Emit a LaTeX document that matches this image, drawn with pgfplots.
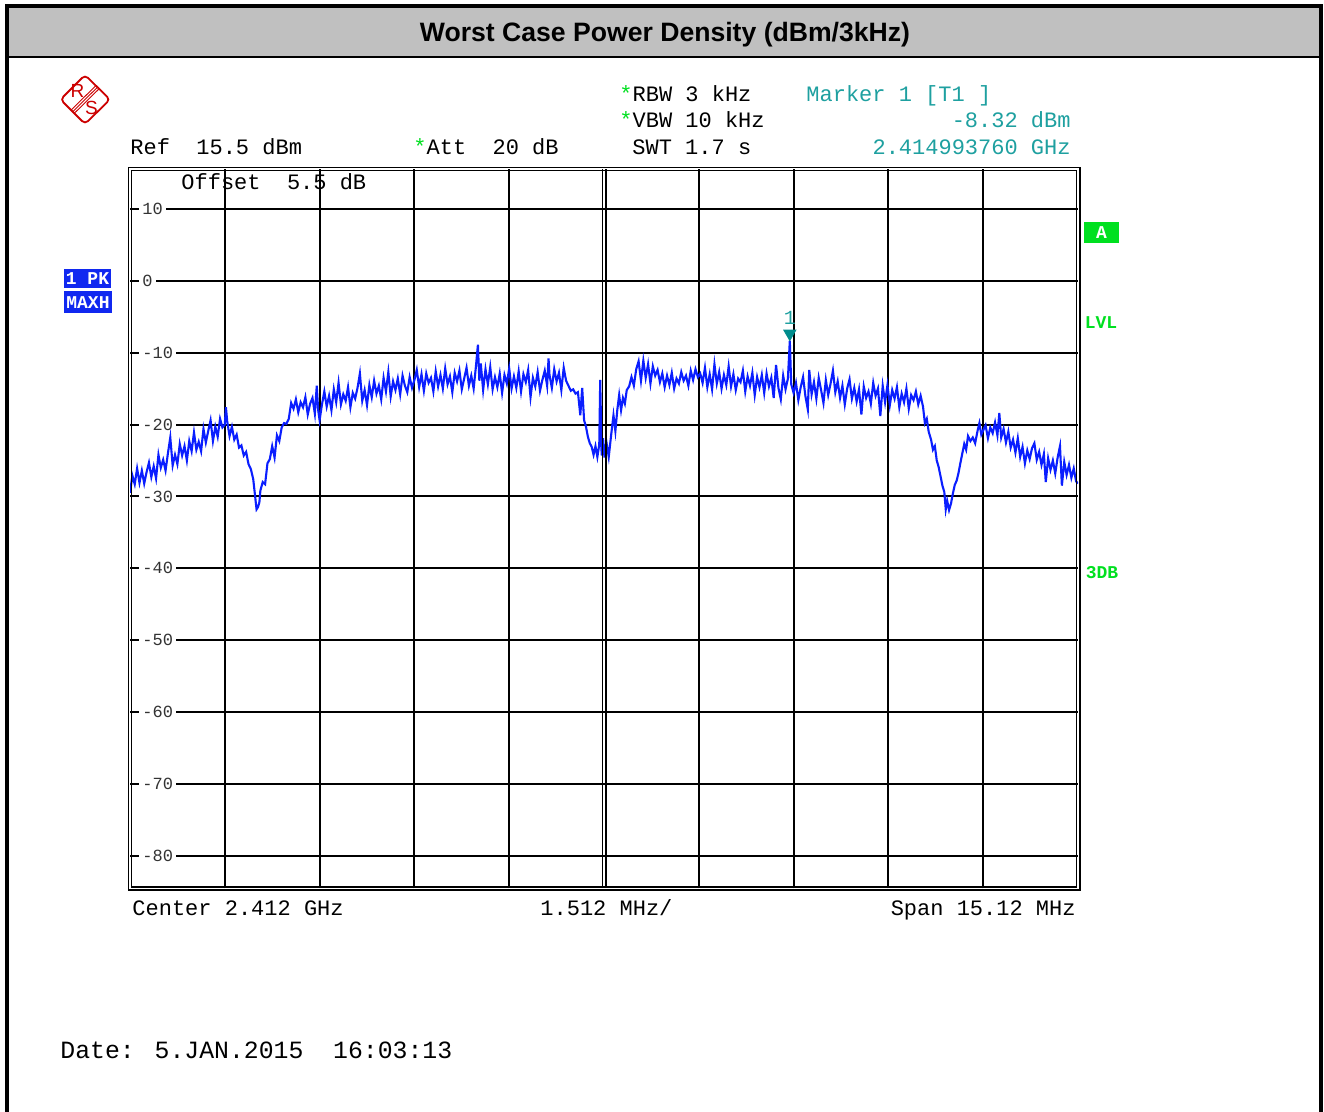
\documentclass[border=0pt]{standalone}
\usepackage{pgfplots}
\pgfplotsset{compat=1.18}
\usepackage{pgfplotstable}
\usepackage{fontspec}
\setmainfont{Liberation Sans}
\newfontfamily\lsans{Liberation Sans}
\newfontfamily\lmono{Liberation Mono}
\definecolor{trace}{RGB}{10,30,255}
\definecolor{mteal}{RGB}{30,160,160}
\definecolor{mtri}{RGB}{0,140,140}
\definecolor{lgreen}{RGB}{0,224,32}
\definecolor{pkblue}{RGB}{16,40,240}
\definecolor{rsred}{RGB}{204,0,0}
\definecolor{tgray}{RGB}{192,192,192}
\pgfplotstableread{
x y
0.000 -29.5
0.025 -27.1
0.050 -28.3
0.075 -26.1
0.100 -28.1
0.125 -26.4
0.150 -28.2
0.175 -26.6
0.200 -25.3
0.225 -27.3
0.250 -25.8
0.275 -27.5
0.300 -24.2
0.325 -26.0
0.350 -24.9
0.375 -26.4
0.400 -24.0
0.425 -21.8
0.450 -25.7
0.475 -24.2
0.500 -25.5
0.525 -22.7
0.550 -24.3
0.575 -23.0
0.600 -25.0
0.625 -22.3
0.650 -23.7
0.675 -21.1
0.700 -23.5
0.725 -22.4
0.750 -23.7
0.775 -20.6
0.800 -22.5
0.825 -20.9
0.850 -19.4
0.875 -22.3
0.900 -20.3
0.925 -21.7
0.950 -19.2
0.975 -20.4
1.000 -20.0
1.012 -17.6
1.025 -19.5
1.050 -21.6
1.075 -20.3
1.100 -22.1
1.125 -21.4
1.150 -23.2
1.175 -22.9
1.200 -24.3
1.225 -23.8
1.250 -25.5
1.275 -26.2
1.300 -27.6
1.320 -30.0
1.335 -31.8
1.350 -31.5
1.365 -30.8
1.375 -29.2
1.400 -28.0
1.425 -28.3
1.450 -25.4
1.475 -24.8
1.500 -23.0
1.525 -24.6
1.550 -21.5
1.575 -22.3
1.600 -20.4
1.625 -19.8
1.650 -19.9
1.675 -19.2
1.700 -17.0
1.725 -17.8
1.750 -16.5
1.775 -18.3
1.800 -16.9
1.825 -17.6
1.850 -16.2
1.875 -18.6
1.900 -17.1
1.925 -16.3
1.950 -18.5
1.970 -14.6
1.985 -18.0
2.000 -19.4
2.025 -17.2
2.050 -15.4
2.075 -17.5
2.100 -16.0
2.125 -18.0
2.150 -15.1
2.175 -16.9
2.200 -14.2
2.225 -17.2
2.250 -15.8
2.275 -16.7
2.300 -14.8
2.325 -17.6
2.350 -15.6
2.375 -16.4
2.400 -14.9
2.425 -12.9
2.450 -16.7
2.475 -15.2
2.500 -17.3
2.525 -14.5
2.550 -16.2
2.575 -13.9
2.600 -15.7
2.625 -14.6
2.650 -16.5
2.675 -13.5
2.700 -15.4
2.725 -12.7
2.750 -16.1
2.775 -14.0
2.800 -15.2
2.825 -13.6
2.850 -15.8
2.875 -13.2
2.900 -14.6
2.925 -15.5
2.950 -13.4
2.975 -14.9
3.000 -13.8
3.025 -12.4
3.050 -14.8
3.075 -13.0
3.100 -15.3
3.125 -12.9
3.150 -14.2
3.175 -13.5
3.200 -15.4
3.225 -12.6
3.250 -14.7
3.275 -13.1
3.300 -15.0
3.325 -12.2
3.350 -14.4
3.375 -13.3
3.400 -15.5
3.425 -12.8
3.450 -14.0
3.475 -12.5
3.500 -15.1
3.525 -13.6
3.550 -12.1
3.575 -14.6
3.600 -13.2
3.625 -15.0
3.650 -11.8
3.670 -8.9
3.685 -13.9
3.700 -11.5
3.725 -15.2
3.750 -12.3
3.775 -14.4
3.800 -12.0
3.825 -15.1
3.850 -13.4
3.875 -14.8
3.900 -12.9
3.925 -15.6
3.950 -13.1
3.975 -14.3
4.000 -12.2
4.025 -15.0
4.050 -13.3
4.075 -14.9
4.100 -12.6
4.125 -15.4
4.150 -13.0
4.175 -14.1
4.200 -12.4
4.225 -16.2
4.250 -13.5
4.275 -14.7
4.300 -12.7
4.325 -15.3
4.350 -13.8
4.375 -12.5
4.400 -14.6
4.415 -10.8
4.425 -13.1
4.450 -14.9
4.475 -12.3
4.500 -14.0
4.525 -12.8
4.550 -15.2
4.575 -12.1
4.600 -13.9
4.625 -14.6
4.650 -15.3
4.675 -15.1
4.700 -15.7
4.725 -15.5
4.750 -18.7
4.770 -14.9
4.790 -19.4
4.810 -20.3
4.830 -21.7
4.850 -22.6
4.870 -23.1
4.890 -24.2
4.910 -23.0
4.930 -24.5
4.950 -22.8
4.960 -13.8
4.975 -24.3
4.990 -21.9
5.005 -24.6
5.025 -22.4
5.050 -24.5
5.075 -21.5
5.100 -18.7
5.120 -20.9
5.140 -18.0
5.160 -15.9
5.180 -18.0
5.200 -16.3
5.220 -17.1
5.240 -15.2
5.265 -14.7
5.290 -13.4
5.315 -14.6
5.340 -12.3
5.365 -11.2
5.390 -13.9
5.415 -11.1
5.440 -13.5
5.465 -11.6
5.490 -14.3
5.515 -11.9
5.540 -13.2
5.565 -12.4
5.590 -14.1
5.615 -12.9
5.640 -14.8
5.665 -13.2
5.690 -14.5
5.715 -12.8
5.740 -15.0
5.765 -13.6
5.790 -14.3
5.815 -12.7
5.840 -13.9
5.865 -13.2
5.890 -14.6
5.915 -12.5
5.940 -13.8
5.965 -12.3
5.990 -13.4
6.015 -12.9
6.040 -14.2
6.065 -12.1
6.090 -14.8
6.115 -13.0
6.140 -15.1
6.165 -11.6
6.190 -14.3
6.215 -12.7
6.240 -15.0
6.265 -13.1
6.290 -14.5
6.315 -11.9
6.340 -14.7
6.365 -13.0
6.390 -15.2
6.415 -13.6
6.440 -14.1
6.465 -12.5
6.490 -15.4
6.515 -13.3
6.540 -14.6
6.565 -12.8
6.590 -15.9
6.615 -13.4
6.640 -14.8
6.665 -13.1
6.690 -15.6
6.715 -12.9
6.740 -14.7
6.765 -13.5
6.790 -16.3
6.815 -11.7
6.840 -14.9
6.865 -16.5
6.890 -13.2
6.915 -15.1
6.940 -13.6
6.960 -8.32
6.975 -14.4
7.000 -15.6
7.025 -14.2
7.050 -16.6
7.075 -14.8
7.100 -13.4
7.125 -16.1
7.150 -17.9
7.165 -12.4
7.190 -15.8
7.215 -14.1
7.240 -16.4
7.265 -13.5
7.290 -15.2
7.315 -17.0
7.340 -13.8
7.365 -15.9
7.390 -14.3
7.415 -12.5
7.440 -15.5
7.465 -14.0
7.490 -16.3
7.515 -14.6
7.540 -17.2
7.565 -15.0
7.590 -13.7
7.615 -16.4
7.640 -14.9
7.665 -16.8
7.690 -15.1
7.715 -18.6
7.740 -14.7
7.765 -16.3
7.790 -15.4
7.815 -17.1
7.840 -14.2
7.865 -16.0
7.890 -15.0
7.915 -18.8
7.940 -14.6
7.965 -16.9
7.990 -14.5
8.015 -17.3
8.040 -15.2
8.065 -16.4
8.090 -14.8
8.115 -17.6
8.140 -15.7
8.165 -16.9
8.190 -15.0
8.215 -17.8
8.240 -15.9
8.265 -16.6
8.290 -15.4
8.315 -17.2
8.340 -16.0
8.365 -17.5
8.385 -19.8
8.405 -19.2
8.425 -21.0
8.450 -22.1
8.470 -23.5
8.490 -23.0
8.510 -25.0
8.530 -25.9
8.550 -27.2
8.570 -28.5
8.590 -29.4
8.605 -31.8
8.620 -30.6
8.640 -31.9
8.660 -31.0
8.680 -29.6
8.700 -28.4
8.720 -27.8
8.740 -26.7
8.760 -25.3
8.780 -24.0
8.800 -22.7
8.820 -23.5
8.840 -21.6
8.865 -22.3
8.890 -21.8
8.915 -22.6
8.940 -20.9
8.960 -19.8
8.980 -21.4
9.000 -20.8
9.025 -20.1
9.050 -21.9
9.075 -20.4
9.100 -21.2
9.125 -19.7
9.150 -21.5
9.170 -18.4
9.190 -21.8
9.215 -20.6
9.240 -22.5
9.265 -21.0
9.290 -23.2
9.315 -22.1
9.340 -23.9
9.365 -21.9
9.390 -24.5
9.415 -23.1
9.440 -25.4
9.465 -23.6
9.490 -24.8
9.515 -23.3
9.540 -22.6
9.565 -24.9
9.590 -23.8
9.615 -25.6
9.640 -24.1
9.660 -28.0
9.685 -24.7
9.710 -26.3
9.735 -25.0
9.760 -26.8
9.785 -24.6
9.810 -23.0
9.830 -28.5
9.855 -25.2
9.880 -27.0
9.905 -25.6
9.930 -27.4
9.955 -26.1
9.980 -27.9
10.000 -28.2
}\tracedata
\begin{document}
\begin{tikzpicture}
\path[use as bounding box] (0,0) rectangle (662pt,-556pt);
\begin{scope}[x=0.5pt,y=-0.5pt,
  mono/.style={font=\lmono\fontsize{11}{13}\selectfont, inner sep=0pt},
  bmono/.style={font=\lmono\bfseries\fontsize{9}{10}\selectfont, inner sep=0pt}]
\fill[white] (0,0) rectangle (1324,1112);
\fill[tgray] (8,6) rectangle (1320,57);
\draw[line width=2pt] (7,1130) -- (7,6) -- (1320.5,6) -- (1320.5,1130);
\draw[line width=1.15pt] (7,57.2) -- (1320.5,57.2);
\node[font=\lsans\bfseries\fontsize{13.3}{15}\selectfont, inner sep=0pt] at (665,34.5) {Worst Case Power Density (dBm/3kHz)};
% R&S logo
\draw[rsred, line width=0.9pt, rounded corners=2pt] (85,75) -- (110,99.5) -- (85,124) -- (60.5,99.5) -- cycle;
\draw[rsred, line width=0.45pt] (97.5,87.2) -- (72.7,111.7);
\draw[rsred, line width=0.45pt] (99.1,88.8) -- (74.3,113.3);
\draw[rsred, line width=0.45pt] (95.9,85.6) -- (71.1,110.1);
\node[rsred, font=\lsans\fontsize{9.5}{10}\selectfont, inner sep=0pt] at (77.5,91) {R};
\node[rsred, font=\lsans\fontsize{9.5}{10}\selectfont, inner sep=0pt] at (91.5,107.5) {S};
% header texts
\node[mono, anchor=base west] at (619,102) {\textcolor{lgreen}{*}RBW 3 kHz};
\node[mono, anchor=base west] at (619,128) {\textcolor{lgreen}{*}VBW 10 kHz};
\node[mono, anchor=base west] at (130,155) {Ref~~15.5~dBm};
\node[mono, anchor=base west] at (413,155) {\textcolor{lgreen}{*}Att~~20~dB};
\node[mono, anchor=base west] at (632,155) {SWT 1.7 s};
\node[mono, anchor=base west, text=mteal] at (806,102) {Marker 1 [T1 ]};
\node[mono, anchor=base east, text=mteal] at (1071,128) {-8.32 dBm};
\node[mono, anchor=base east, text=mteal] at (1071,155) {2.414993760 GHz};
\node[mono, anchor=base west] at (181,190) {Offset~~5.5~dB};
% side boxes
\fill[pkblue] (64,269) rectangle (111,288.5);
\node[bmono, text=white] at (87.5,279) {1 PK};
\fill[pkblue] (64,291.5) rectangle (112,313);
\node[bmono, text=white] at (88,302.5) {MAXH};
\fill[lgreen] (1084,222) rectangle (1119,243);
\node[bmono, text=white] at (1101.5,232.5) {A};
\node[bmono, text=lgreen] at (1101,322.5) {LVL};
\node[bmono, text=lgreen] at (1102,572.5) {3DB};
% bottom texts
\node[mono, anchor=base west] at (132,915) {Center 2.412 GHz};
\node[mono, anchor=base west] at (540,915) {1.512 MHz/};
\node[mono, anchor=base east] at (1076,915) {Span 15.12 MHz};
\node[font=\lmono\fontsize{12.4}{14}\selectfont, inner sep=0pt, anchor=base west] at (60,1058) {Date: 5.JAN.2015~~16:03:13};
\coordinate (axO) at (130,888.3);
\end{scope}
\begin{axis}[
  at={(axO)}, anchor=south west,
  scale only axis, width=474pt, height=359.5pt,
  xmin=0, xmax=10, ymin=-84.5, ymax=15.5,
  axis line style={draw=none},
  xtick={1,2,3,4,6,7,8,9}, xticklabels={},
  ytick={-80,-70,-60,-50,-40,-30,-20,-10,0,10},
  major tick length=0pt,
  grid=major,
  major grid style={black, line width=1pt},
  yticklabel style={anchor=west, xshift=4.5pt, fill=white, inner xsep=1.5pt, inner ysep=0.5pt, font=\lmono\fontsize{8.5}{9}\selectfont, text=black!80},
  /pgf/number format/assume math mode=true,
  clip=true,
]
\addplot[trace, line width=1.05pt, sharp plot, no marks] table[x=x, y=y] {\tracedata};
\addplot[only marks, mark=triangle*, mark size=3.5pt, mark options={yshift=3.5pt, rotate=180, fill=mtri, draw=mtri}] coordinates {(6.96,-8.32)};
\node[text=mteal, font=\lmono\fontsize{10}{11}\selectfont, inner sep=0pt, yshift=11.2pt] at (axis cs:6.96,-8.32) {1};
\end{axis}
\begin{scope}[x=0.5pt,y=-0.5pt]
\draw[line width=0.8pt] (128.3,167.5) rectangle (1079.7,890.1);
\draw[line width=0.7pt] (131.3,170.6) rectangle (1076.7,887.0);
\draw[line width=0.8pt] (602.6,169.3) -- (602.6,888.3);
\draw[line width=0.8pt] (606.0,169.3) -- (606.0,888.3);
\end{scope}
\end{tikzpicture}
\end{document}
